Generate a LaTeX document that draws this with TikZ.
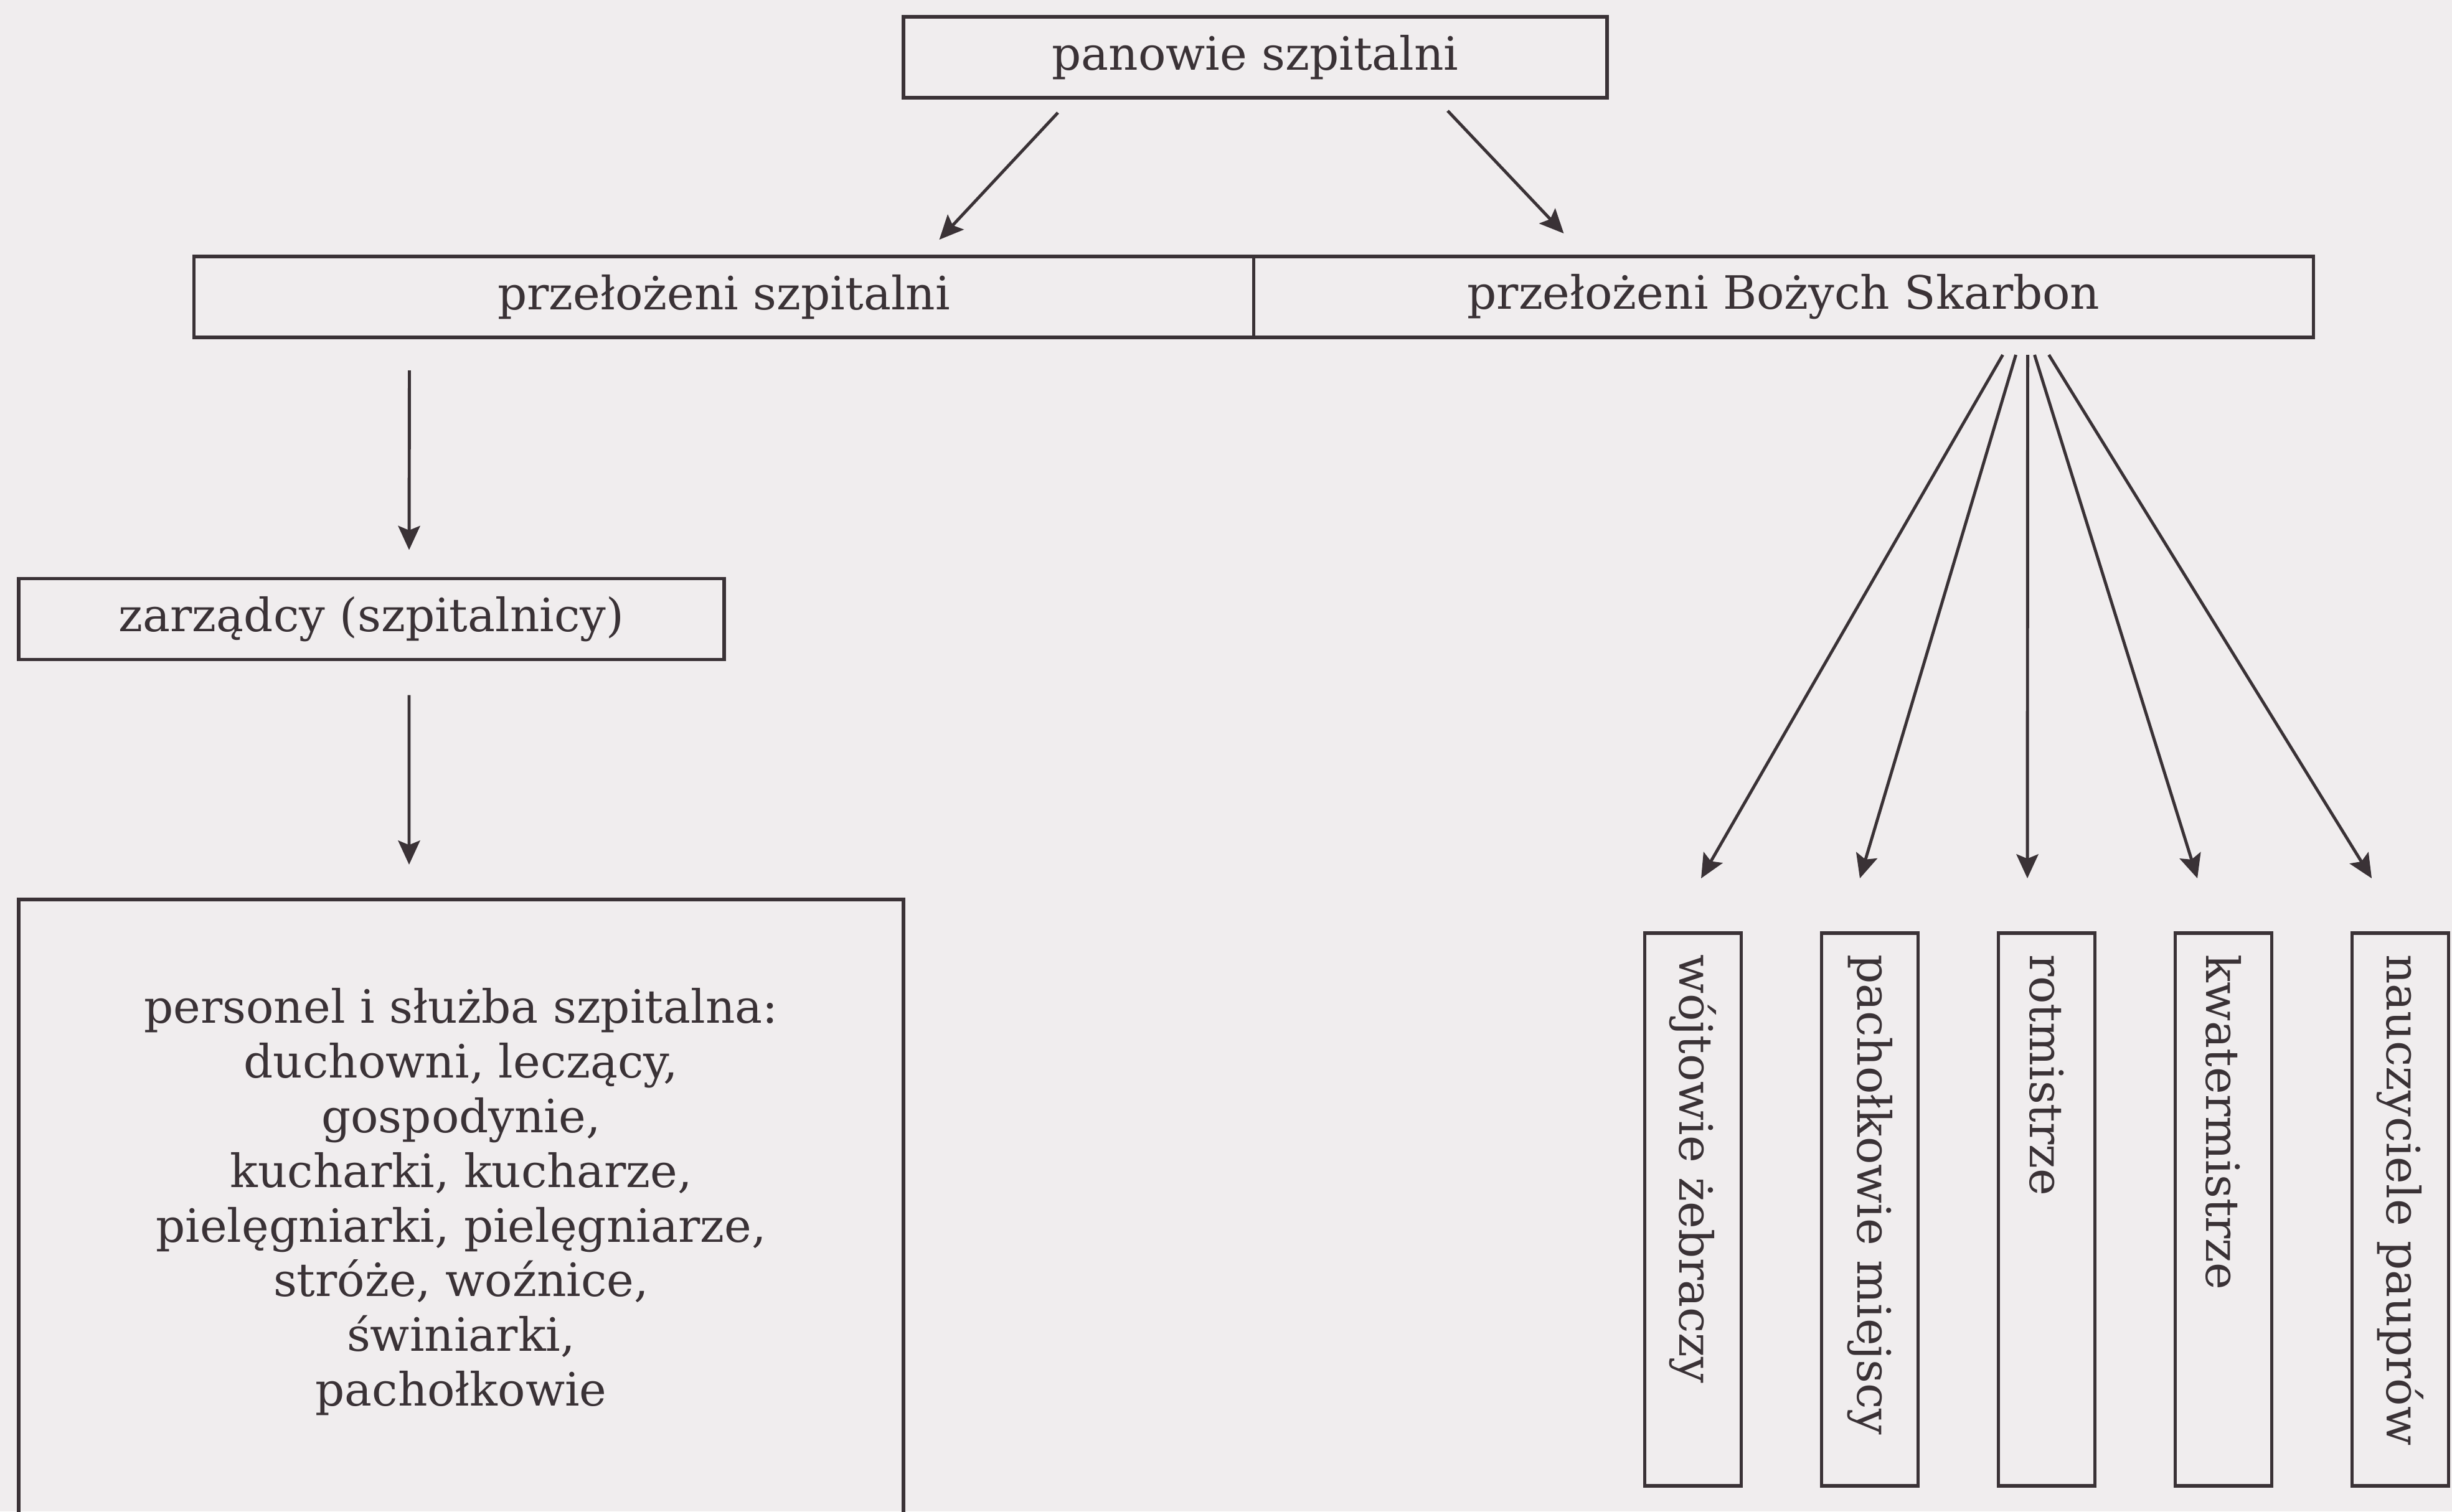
\documentclass[tikz,border=0pt]{standalone}
\usepackage{fontspec}
\setmainfont{DejaVu Serif}
\usepackage{graphicx}
\usetikzlibrary{positioning, arrows.meta}
\usetikzlibrary{calc}

\definecolor{paper}{RGB}{240,237,238}
\definecolor{ink}{RGB}{58,50,54}

\newcommand{\pion}[1]{\rotatebox{-90}{\makebox[4.1cm][l]{#1}}}

\begin{document}
\begin{tikzpicture}[
    node distance=0pt and 0.645cm,
    box/.style={rectangle, draw=ink, text=ink, line width=0.75pt, inner sep=0pt, outer sep=0pt, minimum height=0.65cm, align=center, font=\fontsize{10.5}{12.5}\selectfont},
    pionbox/.style={box, minimum width=0.775cm, minimum height=4.44cm},
    arrow/.style={-{Stealth[length=5.5pt, width=5pt, inset=1pt]}, draw=ink, line width=0.7pt}
  ]
  % Background
  \fill[paper] (0,0) rectangle (19.69,-12.14);
  \useasboundingbox (0,0) rectangle (19.69,-12.14);

  % Top level
  \node[box, minimum width=5.65cm] (panowie) at (10.08,-0.46) {panowie szpitalni};

  % Second level
  \node[box, minimum width=8.51cm] (przel) at (5.8125,-2.385) {przełożeni szpitalni};
  \node[box, minimum width=8.51cm, right=0pt of przel] (skarb) {przełożeni Bożych Skarbon};

  % Left branch
  \node[box, minimum width=5.665cm] (zarz) at (2.9825,-4.9725) {zarządcy (szpitalnicy)};
  \node[box, minimum width=7.105cm, minimum height=5.22cm, anchor=north] (personel) at (3.7025,-7.225)
    {personel i służba szpitalna:\\ duchowni, leczący,\\ gospodynie,\\ kucharki, kucharze,\\ pielęgniarki, pielęgniarze,\\ stróże, woźnice,\\ świniarki,\\ pachołkowie\\ ~};

  % Right branch
  \node[pionbox] (wojt) at (13.595,-9.715) {\pion{wójtowie żebraczy}};
  \node[pionbox, right=of wojt] (pach) {\pion{pachołkowie miejscy}};
  \node[pionbox, right=of pach] (rotm) {\pion{rotmistrze}};
  \node[pionbox, right=of rotm] (kwat) {\pion{kwatermistrze}};
  \node[pionbox, right=of kwat] (naucz) {\pion{nauczyciele pauprów}};

  % Arrows
  \draw[arrow] ([xshift=-1.585cm, yshift=-0.12cm]panowie.south) -- ([xshift=-2.525cm, yshift=0.135cm]przel.north east);
  \draw[arrow] ([xshift=1.545cm, yshift=-0.105cm]panowie.south) -- ([xshift=2.49cm, yshift=0.185cm]skarb.north west);
  \draw[arrow] ([xshift=1.73cm, yshift=-0.265cm]przel.south west) -- ([xshift=3.135cm, yshift=0.23cm]zarz.north west);
  \draw[arrow] ([xshift=3.135cm, yshift=-0.285cm]zarz.south west) -- ([xshift=3.135cm, yshift=0.28cm]personel.north west);
  \draw[arrow] ([xshift=1.76cm, yshift=-0.14cm]skarb.south) -- ([xshift=0.065cm, yshift=0.44cm]wojt.north);
  \draw[arrow] ([xshift=1.865cm, yshift=-0.14cm]skarb.south) -- ([xshift=-0.08cm, yshift=0.44cm]pach.north);
  \draw[arrow] ([xshift=1.96cm, yshift=-0.14cm]skarb.south) -- ([xshift=-0.155cm, yshift=0.44cm]rotm.north);
  \draw[arrow] ([xshift=2.015cm, yshift=-0.14cm]skarb.south) -- ([xshift=-0.21cm, yshift=0.44cm]kwat.north);
  \draw[arrow] ([xshift=2.13cm, yshift=-0.14cm]skarb.south) -- ([xshift=-0.23cm, yshift=0.44cm]naucz.north);
\end{tikzpicture}
\end{document}
